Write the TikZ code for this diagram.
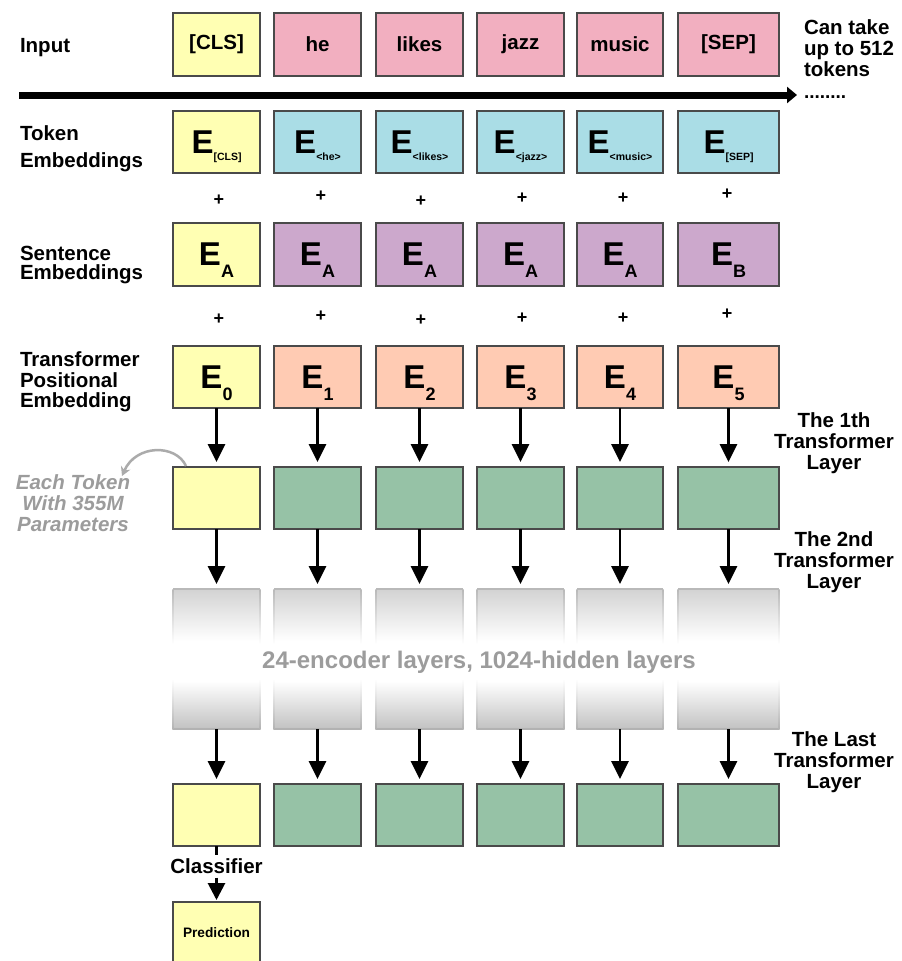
\documentclass[tikz,border=0pt]{standalone}
\usepackage{fontspec}
\setmainfont{Liberation Sans}
\usetikzlibrary{arrows.meta,calc}
\definecolor{yel}{HTML}{FFFFB3}
\definecolor{pnk}{HTML}{F2AFC0}
\definecolor{blu}{HTML}{AADDE6}
\definecolor{pur}{HTML}{CCA8CC}
\definecolor{pch}{HTML}{FFCBB3}
\definecolor{grn}{HTML}{96C2A6}
\definecolor{bdr}{HTML}{4A4A4A}
\definecolor{ntxt}{HTML}{9C9C9C}
\newcommand{\fs}[1]{\fontsize{#1}{#1}\selectfont}
\newcommand{\Emb}[3]{{\fs{33}E}\raisebox{-#3pt}[0pt][0pt]{\fs{#2}#1}}
\begin{document}
\begin{tikzpicture}[x=1pt,y=-1pt,
  every node/.style={outer sep=0pt},
  cell/.style={draw=bdr, line width=1.3pt, minimum height=62pt, inner sep=0pt, anchor=north west, font=\bfseries},
  lbl/.style={font=\bfseries\fontsize{20.5}{21}\selectfont, inner sep=0pt, align=left, anchor=north west},
  rlbl/.style={font=\bfseries\fontsize{20.5}{21}\selectfont, inner sep=0pt, align=center, anchor=north},
  plus/.style={font=\bfseries\fs{18}, inner sep=0pt},
  flow/.style={line width=2.8pt, -{Triangle[width=17pt,length=18pt]}, shorten >=5pt},
]
\useasboundingbox (0,0) rectangle (902,961);
\fill[white] (0,0) rectangle (902,961);

% ---- left labels
\node[lbl, anchor=base west] (lin) at (20,52) {Input};
\node[lbl, font=\bfseries\fontsize{20.5}{27}\selectfont] (ltok) at (20,126) {Token\\Embeddings};
\node[lbl, font=\bfseries\fontsize{20.5}{19.5}\selectfont] (lsen) at (20,246) {Sentence\\Embeddings};
\node[lbl, font=\bfseries\fontsize{20.5}{20.5}\selectfont] (lpos) at (20,352) {Transformer\\Positional\\Embedding};

% ---- right labels
\node[lbl] (lcan) at (804,20) {Can take\\up to 512\\tokens};
\node[anchor=base west, inner sep=0pt, font=\bfseries\fs{19}] (dots) at (804,98) {........};
\node[rlbl] (r1) at (834,413) {The 1th\\Transformer\\Layer};
\node[rlbl] (r2) at (834,532) {The 2nd\\Transformer\\Layer};
\node[rlbl] (r3) at (834,732) {The Last\\Transformer\\Layer};

% ---- top arrow
\coordinate (ts) at (19,95);
\coordinate (te) at (797,95);
\draw[line width=7pt, -{Triangle[width=16pt,length=10pt]}] (ts) -- (te);

% ---- input row
\foreach \i/\x/\w/\c/\t in {0/173/87/yel/[CLS],1/274/87/pnk/he,2/376/87/pnk/likes,3/477/87/pnk/jazz,4/577/86/pnk/music,5/678/101/pnk/[SEP]}{
  \node[cell, fill=\c, minimum width=\w pt, minimum height=63pt] (in\i) at (\x,13) {\fs{20.5}\t};
}
% ---- token embeddings
\foreach \i/\x/\w/\c/\t in {0/173/87/yel/[CLS],1/274/87/blu/<he>,2/376/87/blu/<likes>,3/477/87/blu/<jazz>,4/577/86/blu/<music>,5/678/101/blu/[SEP]}{
  \node[cell, fill=\c, minimum width=\w pt] (tok\i) at (\x,111) {\Emb{\t}{10.5}{7.5}};
}
% ---- sentence embeddings
\foreach \i/\x/\w/\c/\t in {0/173/87/yel/A,1/274/87/pur/A,2/376/87/pur/A,3/477/87/pur/A,4/577/86/pur/A,5/678/101/pur/B}{
  \node[cell, fill=\c, minimum width=\w pt, minimum height=63pt] (sen\i) at (\x,223) {\Emb{\t}{18}{12}};
}
% ---- positional embeddings
\foreach \i/\x/\w/\c in {0/173/87/yel,1/274/87/pch,2/376/87/pch,3/477/87/pch,4/577/86/pch,5/678/101/pch}{
  \node[cell, fill=\c, minimum width=\w pt] (pos\i) at (\x,346) {\Emb{\i}{18}{12}};
}
% ---- plus signs
\foreach \i/\x/\ya/\yb in {0/219/200/319,1/321/196/316,2/421/201/320,3/522/198/318,4/623/198/318,5/727/194/314}{
  \node[plus] (pa\i) at (\x,\ya) {+};
  \node[plus] (pb\i) at (\x,\yb) {+};
}
% ---- first transformer layer
\foreach \i/\x/\w/\c in {0/173/87/yel,1/274/87/grn,2/376/87/grn,3/477/87/grn,4/577/86/grn,5/678/101/grn}{
  \node[cell, fill=\c, minimum width=\w pt] (l\i) at (\x,467) {};
}
% ---- faded middle layers
\foreach \i/\x/\w in {0/173/87,1/274/87,2/376/87,3/477/87,4/577/86,5/678/101}{
  \node[anchor=north west, inner sep=0pt, minimum width=\w pt, minimum height=140pt] (g\i) at (\x,589) {};
  \shade[top color=gray!35, bottom color=white] (g\i.north west) rectangle ($(g\i.north east)+(0,52)$);
  \shade[top color=white, bottom color=gray!48] ($(g\i.south west)+(0,-48)$) rectangle (g\i.south east);
  \draw[gray!55, line width=1.2pt] (g\i.north west) -- (g\i.north east);
  \draw[gray!60, line width=1.2pt] (g\i.south west) -- (g\i.south east);
  \shade[top color=gray!55, bottom color=white] ($(g\i.north west)+(-0.6,0)$) rectangle ($(g\i.north west)+(0.6,55)$);
  \shade[top color=gray!55, bottom color=white] ($(g\i.north east)+(-0.6,0)$) rectangle ($(g\i.north east)+(0.6,55)$);
  \shade[top color=white, bottom color=gray!60] ($(g\i.south west)+(-0.6,-50)$) rectangle ($(g\i.south west)+(0.6,0)$);
  \shade[top color=white, bottom color=gray!60] ($(g\i.south east)+(-0.6,-50)$) rectangle ($(g\i.south east)+(0.6,0)$);
}
\node[font=\bfseries\fs{24}, text=ntxt, inner sep=0pt] (enc) at (479,662) {24-encoder layers, 1024-hidden layers};
% ---- last transformer layer
\foreach \i/\x/\w/\c in {0/173/87/yel,1/274/87/grn,2/376/87/grn,3/477/87/grn,4/577/86/grn,5/678/101/grn}{
  \node[cell, fill=\c, minimum width=\w pt] (z\i) at (\x,784) {};
}
% ---- vertical arrows
\foreach \i in {0,...,5}{
  \draw[flow] (pos\i.south) -- (l\i.north);
  \draw[flow] (l\i.south) -- (g\i.north);
  \draw[flow] (g\i.south) -- (z\i.north);
}
% ---- classifier and prediction
\node[cell, fill=yel, minimum width=87pt] (pred) at (173,902) {\fs{13.7}Prediction};
\node[font=\bfseries\fs{20.5}, inner xsep=0pt, inner ysep=3.5pt] (cls) at (216.5,866.5) {Classifier};
\draw[line width=2.8pt] (z0.south) -- (cls.north);
\draw[line width=2.8pt, -{Triangle[width=17pt,length=17pt]}, shorten >=2pt] (cls.south) -- (pred.north);

% ---- note
\node[rlbl, font=\bfseries\itshape\fontsize{20.5}{21}\selectfont, text=ntxt] (note) at (73,475) {Each Token\\With 355M\\Parameters};
\coordinate (na) at (186,466);
\coordinate (nt) at (122,476);
\draw[ntxt!85, line width=2.5pt, -{Stealth[length=9pt,width=10pt]}] (na) .. controls (176,444) and (136,444) .. (nt);
\end{tikzpicture}
\end{document}
